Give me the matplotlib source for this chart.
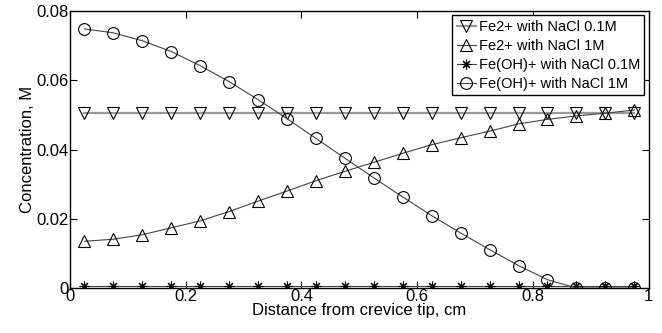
import matplotlib
matplotlib.use("Agg")
import matplotlib.pyplot as plt
import numpy as np

plt.rcParams['font.family'] = ['Liberation Sans', 'DejaVu Sans']

# distance from crevice tip, cm
x = [0.025, 0.075, 0.125, 0.175, 0.225, 0.275, 0.325, 0.375, 0.425, 0.475,
     0.525, 0.575, 0.625, 0.675, 0.725, 0.775, 0.825, 0.875, 0.925, 0.975]

fe2_01 = [0.0504] * 20
fe2_1 = [0.0135, 0.0141, 0.0154, 0.0174, 0.0194, 0.0221, 0.0251, 0.0280, 0.0310, 0.0337,
         0.0363, 0.0389, 0.0414, 0.0434, 0.0453, 0.0474, 0.0487, 0.0497, 0.0505, 0.0514]
feoh_01 = [0.0007] * 20
feoh_1 = [0.0748, 0.0737, 0.0714, 0.0683, 0.0642, 0.0596, 0.0544, 0.0489, 0.0432, 0.0375,
          0.0318, 0.0263, 0.0209, 0.0159, 0.0111, 0.0065, 0.0024, 0.0, 0.0, 0.0]

xticks = [0, 0.2, 0.4, 0.6, 0.8, 1]
xtick_labels = ["0", "0.2", "0.4", "0.6", "0.8", "1"]
yticks = [0, 0.02, 0.04, 0.06, 0.08]
ytick_labels = ["0", "0.02", "0.04", "0.06", "0.08"]

fig = plt.figure(figsize=(6.62, 3.33), dpi=100)
ax = fig.add_axes([0.1057, 0.135, 0.8743, 0.832])

mk = dict(markerfacecolor='none', markeredgecolor='black', markeredgewidth=0.8, markersize=8.5)
ax.plot(x, fe2_01, color='#999999', linewidth=1.6, marker='v', label='Fe2+ with NaCl 0.1M', **mk)
ax.plot(x, fe2_1, color='#444444', linewidth=0.8, marker='^', label='Fe2+ with NaCl 1M', **mk)
ax.plot(x, feoh_01, color='#444444', linewidth=0.8, marker=(8, 2, 0), label='Fe(OH)+ with NaCl 0.1M',
        markeredgecolor='black', markeredgewidth=0.8, markersize=7)
ax.plot(x, feoh_1, color='#444444', linewidth=0.8, marker='o', label='Fe(OH)+ with NaCl 1M', **mk)

ax.set_xlim(0, 1)
ax.set_ylim(0, 0.08)
ax.set_xticks(xticks)
ax.set_xticklabels(xtick_labels)
ax.set_yticks(yticks)
ax.set_yticklabels(ytick_labels)
ax.tick_params(direction='in', top=True, right=True, length=5, labelsize=12, pad=1)
for s in ax.spines.values():
    s.set_linewidth(1.0)

ax.set_xlabel('Distance from crevice tip, cm', fontsize=12, labelpad=-1)
ax.set_ylabel('Concentration, M', fontsize=12, labelpad=1)

leg = ax.legend(loc='upper right', fontsize=10.5, handlelength=1.3, handletextpad=0.2,
                labelspacing=0.35, borderpad=0.3, borderaxespad=0.3, fancybox=False,
                framealpha=1)
leg.get_frame().set_edgecolor('black')
leg.get_frame().set_linewidth(1.0)

fig.savefig('out.png', dpi=100)
